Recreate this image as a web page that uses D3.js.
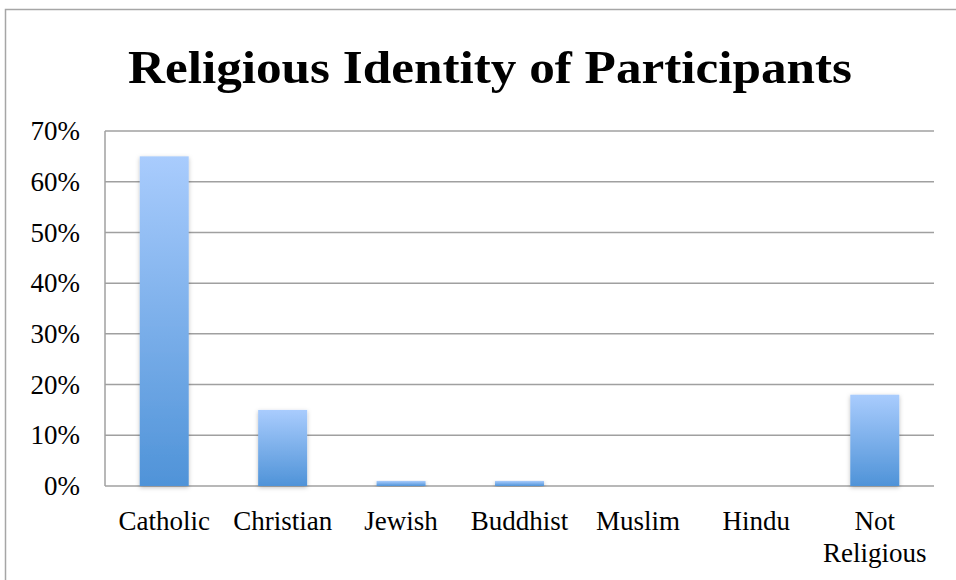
<!DOCTYPE html>
<html>
<head>
<meta charset="utf-8">
<script src="https://cdn.jsdelivr.net/npm/d3@7"></script>
<style>
  html, body { margin: 0; padding: 0; background: #fff; }
  svg { display: block; }
</style>
</head>
<body>
<svg id="chart" width="956" height="580"></svg>
<script>
const categories = ["Catholic", "Christian", "Jewish", "Buddhist", "Muslim", "Hindu", "Not Religious"];
const values = [0.65, 0.15, 0.01, 0.01, 0, 0, 0.18];
const tickValues = [0, 0.1, 0.2, 0.3, 0.4, 0.5, 0.6, 0.7];
const titleText = "Religious Identity of Participants";

const svg = d3.select("#chart");
const W = 956, H = 580;
const plot = { left: 105, right: 934, top: 131, bottom: 486 };
const fontFamily = "'Liberation Serif', 'DejaVu Serif', serif";

const defs = svg.append("defs");
const grad = defs.append("linearGradient").attr("id", "barGrad")
  .attr("x1", 0).attr("y1", 0).attr("x2", 0).attr("y2", 1);
grad.append("stop").attr("offset", "0%").attr("stop-color", "#a9ccfd");
grad.append("stop").attr("offset", "100%").attr("stop-color", "#4f93d8");
const filt = defs.append("filter").attr("id", "shadow")
  .attr("x", "-20%").attr("y", "-5%").attr("width", "140%").attr("height", "115%");
filt.append("feDropShadow").attr("dx", 0).attr("dy", 1.5).attr("stdDeviation", 2)
  .attr("flood-color", "#000").attr("flood-opacity", 0.25);

// outer frame
svg.append("path")
  .attr("d", `M5.5,${H} L5.5,9.5 L${W},9.5`)
  .attr("fill", "none").attr("stroke", "#a6a6a6").attr("stroke-width", 1.5);

// title
svg.append("text")
  .attr("x", 128).attr("y", 83)
  .attr("text-anchor", "start")
  .attr("font-family", fontFamily)
  .attr("font-weight", "bold")
  .attr("font-size", 47)
  .attr("textLength", 724)
  .attr("lengthAdjust", "spacingAndGlyphs")
  .attr("fill", "#000")
  .text(titleText);

const x = d3.scaleBand().domain(categories).range([plot.left, plot.right]).padding(0);
const y = d3.scaleLinear().domain([0, 0.7]).range([plot.bottom, plot.top]);

// gridlines
svg.append("g").selectAll("line").data(tickValues).join("line")
  .attr("x1", plot.left).attr("x2", plot.right)
  .attr("y1", d => y(d)).attr("y2", d => y(d))
  .attr("stroke", "#a0a0a0").attr("stroke-width", 1.5);

// y axis line
svg.append("line")
  .attr("x1", plot.left).attr("x2", plot.left)
  .attr("y1", plot.top).attr("y2", plot.bottom)
  .attr("stroke", "#a0a0a0").attr("stroke-width", 1.5);

// y axis labels
const yAxis = d3.axisLeft(y).tickValues(tickValues).tickFormat(d3.format(".0%")).tickSize(0).tickPadding(25);
const gy = svg.append("g").attr("transform", `translate(${plot.left},0)`).call(yAxis);
gy.select(".domain").remove();
gy.selectAll("text")
  .attr("font-family", fontFamily).attr("font-size", 27).attr("fill", "#000");

// bars
const barW = 49;
svg.append("g").selectAll("rect").data(categories).join("rect")
  .attr("x", d => x(d) + x.bandwidth() / 2 - barW / 2)
  .attr("width", barW)
  .attr("y", (d, i) => y(values[i]))
  .attr("height", (d, i) => plot.bottom - y(values[i]))
  .attr("fill", "url(#barGrad)")
  .attr("filter", "url(#shadow)");

// x labels
const gx = svg.append("g");
categories.forEach(c => {
  const words = c === "Not Religious" ? ["Not", "Religious"] : [c];
  const t = gx.append("text")
    .attr("x", x(c) + x.bandwidth() / 2)
    .attr("y", 530)
    .attr("text-anchor", "middle")
    .attr("font-family", fontFamily).attr("font-size", 27).attr("fill", "#000");
  words.forEach((w, i) => {
    t.append("tspan").attr("x", x(c) + x.bandwidth() / 2).attr("dy", i === 0 ? 0 : 32).text(w);
  });
});
</script>
</body>
</html>
